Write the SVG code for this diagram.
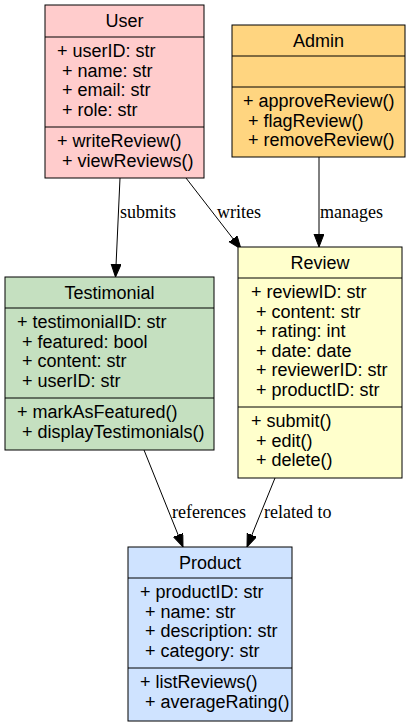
<svg xmlns="http://www.w3.org/2000/svg" width="413" height="727" viewBox="0 0 413 727">
<style>
.box{stroke:#000;stroke-width:1}
.t{font-family:"Liberation Sans",Arial,sans-serif;font-size:18px;fill:#000}
.h{text-anchor:middle}
.el{font-family:"Liberation Serif","Times New Roman",serif;font-size:18px;fill:#000}
.e{stroke:#000;stroke-width:1;fill:none;marker-end:url(#arr)}
</style>
<defs>
<marker id="arr" markerUnits="userSpaceOnUse" markerWidth="14" markerHeight="11" refX="13" refY="5" orient="auto">
<path d="M0,0 L13,5 L0,10 z" fill="#000" stroke="#000" stroke-width="1"/>
</marker>
</defs>
<rect width="413" height="727" fill="#fff"/>
<g id="edges">
<line class="e" x1="120" y1="178" x2="115.5" y2="277"/>
<text class="el" x="120" y="218">submits</text>
<line class="e" x1="186" y1="178" x2="241" y2="249"/>
<text class="el" x="217" y="218">writes</text>
<line class="e" x1="319" y1="157" x2="319" y2="247"/>
<text class="el" x="320" y="218">manages</text>
<line class="e" x1="144" y1="450" x2="183" y2="547"/>
<text class="el" x="172" y="518">references</text>
<line class="e" x1="275" y1="478" x2="247" y2="547"/>
<text class="el" x="264" y="518">related to</text>
</g>
<g id="User">
<rect class="box" x="45" y="5" width="159" height="173" fill="#ffcccc"/>
<line class="box" x1="45" y1="37" x2="204" y2="37"/>
<line class="box" x1="45" y1="127" x2="204" y2="127"/>
<text class="t h" x="124.5" y="27">User</text>
<text class="t" x="57" y="57">+ userID: str</text>
<text class="t" x="62" y="76.5">+ name: str</text>
<text class="t" x="62" y="96">+ email: str</text>
<text class="t" x="62" y="115.5">+ role: str</text>
<text class="t" x="57" y="147">+ writeReview()</text>
<text class="t" x="62" y="166.5">+ viewReviews()</text>
</g>
<g id="Admin">
<rect class="box" x="232" y="25" width="173" height="132" fill="#ffd580"/>
<line class="box" x1="232" y1="56" x2="405" y2="56"/>
<line class="box" x1="232" y1="87" x2="405" y2="87"/>
<text class="t h" x="318.5" y="47">Admin</text>
<text class="t" x="243" y="107">+ approveReview()</text>
<text class="t" x="248" y="126.5">+ flagReview()</text>
<text class="t" x="248" y="146">+ removeReview()</text>
</g>
<g id="Testimonial">
<rect class="box" x="5" y="277" width="209" height="173" fill="#c5e0c0"/>
<line class="box" x1="5" y1="308" x2="214" y2="308"/>
<line class="box" x1="5" y1="398" x2="214" y2="398"/>
<text class="t h" x="109.5" y="299">Testimonial</text>
<text class="t" x="17" y="328">+ testimonialID: str</text>
<text class="t" x="22" y="347.5">+ featured: bool</text>
<text class="t" x="22" y="367">+ content: str</text>
<text class="t" x="22" y="386.5">+ userID: str</text>
<text class="t" x="17" y="418">+ markAsFeatured()</text>
<text class="t" x="22" y="437.5">+ displayTestimonials()</text>
</g>
<g id="Review">
<rect class="box" x="238" y="247" width="164" height="231" fill="#ffffcc"/>
<line class="box" x1="238" y1="278" x2="402" y2="278"/>
<line class="box" x1="238" y1="407" x2="402" y2="407"/>
<text class="t h" x="320" y="269">Review</text>
<text class="t" x="251" y="298">+ reviewID: str</text>
<text class="t" x="256" y="317.5">+ content: str</text>
<text class="t" x="256" y="337">+ rating: int</text>
<text class="t" x="256" y="356.5">+ date: date</text>
<text class="t" x="256" y="376">+ reviewerID: str</text>
<text class="t" x="256" y="395.5">+ productID: str</text>
<text class="t" x="251" y="427">+ submit()</text>
<text class="t" x="256" y="446.5">+ edit()</text>
<text class="t" x="256" y="466">+ delete()</text>
</g>
<g id="Product">
<rect class="box" x="128" y="547" width="164" height="174" fill="#cfe3ff"/>
<line class="box" x1="128" y1="578" x2="292" y2="578"/>
<line class="box" x1="128" y1="668" x2="292" y2="668"/>
<text class="t h" x="210" y="569">Product</text>
<text class="t" x="140" y="598">+ productID: str</text>
<text class="t" x="145" y="617.5">+ name: str</text>
<text class="t" x="145" y="637">+ description: str</text>
<text class="t" x="145" y="656.5">+ category: str</text>
<text class="t" x="140" y="688">+ listReviews()</text>
<text class="t" x="145" y="707.5">+ averageRating()</text>
</g>
</svg>
